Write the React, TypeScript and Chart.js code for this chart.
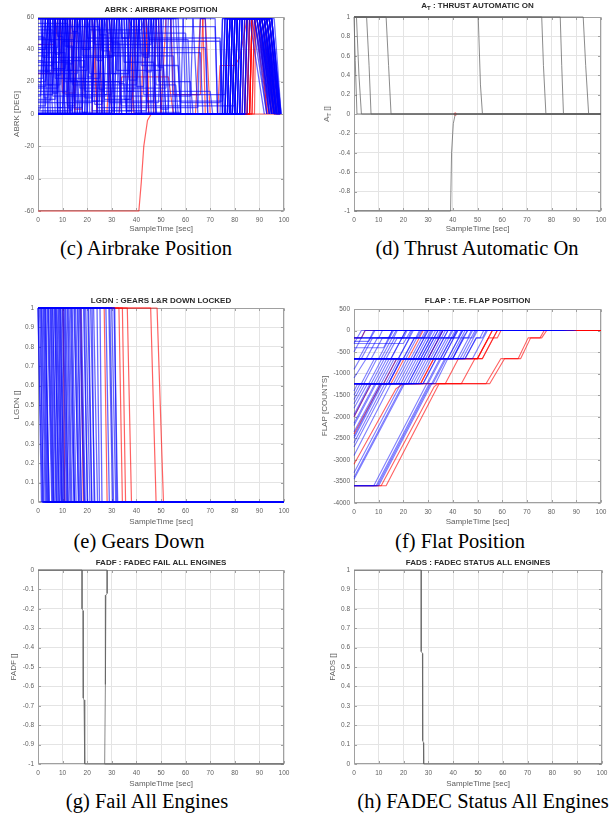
import React, { useEffect, useRef } from "react";
import { Chart, registerables } from "chart.js";

Chart.register(...registerables);

// ================= DATA =================
// Each trace is a flat list of (SampleTime [sec], value) pairs.

// (c) ABRK : AIRBRAKE POSITION  [DEG]
const abrkBlue: number[][] = [
  [0, 59, 4, 59, 5, 0, 9, 0, 10, 45, 74, 45, 75, 0, 78, 0, 79, 59, 91, 59, 97, 0, 98.5, 0],
  [0, 30, 6, 30, 7, 59, 15, 59, 16, 0, 20, 0, 21, 59, 28, 59, 30, 0, 80, 0, 81, 59, 89, 59, 96, 0, 98.5, 0],
  [0, 14, 12, 14, 13, 59, 18, 59, 19, 14, 70, 14, 71, 0, 76, 0, 77, 59, 93, 59, 98, 0],
  [0, 5, 3, 5, 4, 59, 9, 59, 11, 0, 24, 0, 25, 59, 33, 59, 34, 5, 80, 5, 81, 59, 90, 59, 96, 0],
  [0, 41, 8, 41, 9, 59, 11, 59, 12, 41, 68, 41, 69, 0, 79, 0, 80, 59, 92, 59, 97, 0],
  [0, 22, 2, 22, 3, 59, 6, 59, 7, 22, 25, 22, 26, 59, 36, 59, 38, 0, 82, 0, 83, 59, 93, 59, 98, 0],
  [0, 50, 17, 50, 18, 0, 22, 0, 23, 59, 27, 59, 28, 50, 60, 50, 61, 0, 77, 0, 78, 59, 88, 59, 95, 0],
  [0, 8, 5, 8, 6, 59, 14, 59, 15, 8, 75, 8, 76, 59, 90, 59, 95, 0],
  [0, 59, 1, 59, 2, 35, 30, 35, 31, 59, 40, 59, 42, 0, 78, 0, 79, 59, 94, 59, 98, 0],
  [0, 2, 14, 2, 15, 59, 21, 59, 22, 2, 44, 2, 45, 59, 50, 59, 52, 0, 81, 0, 82, 59, 92, 59, 97, 0],
  [0, 47, 3, 47, 4, 0, 10, 0, 11, 59, 19, 59, 20, 47, 74, 47, 75, 0, 84, 0, 85, 59, 95, 59, 98.5, 0],
  [0, 18, 9, 18, 10, 59, 13, 59, 14, 18, 40, 18, 41, 59, 47, 59, 48, 18, 56, 18, 57, 0, 79, 0, 80, 59, 91, 59, 96, 0],
  [0, 59, 7, 59, 8, 0, 16, 0, 17, 59, 24, 59, 25, 0, 33, 0, 34, 59, 39, 59, 40, 0, 76, 0, 77, 59, 93, 59, 97, 0],
  [0, 27, 20, 27, 21, 59, 31, 59, 32, 27, 50, 27, 51, 59, 56, 59, 58, 0, 80, 0, 81, 59, 90, 59, 94, 0],
  [0, 11, 1, 11, 2, 59, 5, 59, 6, 11, 62, 11, 63, 59, 68, 59, 69, 0, 78, 0, 79, 59, 92, 59, 96, 0],
  [0, 36, 4, 36, 5, 59, 8, 59, 9, 0, 12, 0, 13, 59, 17, 59, 18, 36, 55, 36, 56, 0, 83, 0, 84, 59, 94, 59, 98, 0],
  [0, 54, 25, 54, 26, 0, 29, 0, 30, 59, 37, 59, 38, 54, 72, 54, 73, 0, 77, 0, 78, 59, 91, 59, 95, 0],
  [0, 4, 18, 4, 19, 59, 23, 59, 24, 4, 65, 4, 66, 59, 72, 59, 73, 0, 80, 0, 81, 59, 93, 59, 97, 0],
  [0, 59, 10, 59, 11, 20, 35, 20, 36, 59, 43, 59, 45, 0, 79, 0, 80, 59, 88, 59, 93, 0],
  [0, 32, 13, 32, 14, 0, 26, 0, 27, 59, 34, 59, 35, 32, 47, 32, 48, 0, 82, 0, 83, 59, 95, 59, 98.5, 0],
  [0, 12, 6, 12, 7, 59, 10, 59, 11, 12, 28, 12, 29, 59, 42, 59, 43, 12, 76, 12, 77, 59, 92, 59, 97, 0],
  [0, 43, 2, 43, 3, 59, 22, 59, 23, 43, 46, 43, 47, 59, 54, 59, 55, 0, 78, 0, 79, 59, 90, 59, 95, 0],
  [0, 25, 16, 25, 17, 59, 20, 59, 21, 25, 37, 25, 38, 59, 46, 59, 48, 0, 81, 0, 82, 59, 94, 59, 98, 0],
  [0, 1, 30, 1, 31, 59, 38, 59, 39, 1, 58, 1, 59, 59, 63, 59, 65, 0, 77, 0, 78, 59, 93, 59, 97, 0],
  [0, 59, 5, 59, 6, 28, 11, 28, 12, 59, 26, 59, 27, 0, 84, 0, 85, 59, 94, 59, 98.5, 0],
  [0, 16, 8, 16, 9, 59, 16, 59, 17, 16, 52, 16, 53, 59, 59, 59, 60, 0, 79, 0, 80, 59, 91, 59, 96, 0],
  [0, 38, 11, 38, 12, 0, 18, 0, 19, 59, 29, 59, 30, 38, 66, 38, 67, 0, 80, 0, 81, 59, 92, 59, 96, 0],
  [0, 7, 22, 7, 23, 59, 28, 59, 29, 7, 49, 7, 50, 59, 57, 59, 58, 7, 74, 7, 75, 59, 89, 59, 94, 0],
  [0, 20, 3, 20, 4, 59, 12, 59, 13, 20, 33, 20, 34, 0, 37, 0, 38, 59, 48, 59, 49, 20, 62, 20, 63, 0, 82, 0, 83, 59, 93, 59, 97, 0],
  [0, 52, 6, 52, 7, 0, 14, 0, 15, 59, 20, 59, 21, 52, 42, 52, 43, 59, 52, 59, 53, 0, 78, 0, 79, 59, 95, 59, 98, 0],
  [0, 0, 2, 0, 3, 59, 8, 59, 9, 33, 19, 33, 20, 0, 75, 0, 76, 59, 87, 59, 93, 0],
  [0, 46, 15, 46, 16, 59, 26, 59, 27, 0, 31, 0, 32, 59, 44, 59, 45, 46, 61, 46, 62, 0, 83, 0, 84, 59, 96, 59, 98.8, 0],
  [0, 9, 7, 9, 8, 59, 12, 59, 13, 0, 19, 0, 20, 59, 26, 59, 27, 9, 38, 9, 39, 59, 45, 59, 46, 0, 85, 0, 86, 59, 95, 59, 98.5, 0],
  [0, 56, 12, 56, 13, 0, 15, 0, 16, 59, 30, 59, 31, 0, 36, 0, 37, 59, 41, 59, 42, 30, 57, 30, 58, 0, 81, 0, 82, 59, 92, 59, 97, 0],
  [0, 59, 1.5, 59, 2.5, 10, 4, 10, 5, 59, 6.5, 59, 7.5, 24, 9, 24, 10, 59, 11.5, 59, 12.5, 3, 14, 3, 15, 59, 17, 59, 18, 40, 21, 40, 22, 59, 24, 59, 25, 15, 27, 15, 28, 59, 30, 59, 31, 0, 78, 0, 79, 59, 90, 59, 96, 0],
  [0, 33, 2, 33, 3, 0, 4, 0, 5, 59, 7, 59, 8, 48, 10, 48, 11, 0, 13, 0, 14, 59, 16, 59, 17, 29, 19, 29, 20, 59, 22, 59, 23, 6, 26, 6, 27, 59, 29, 59, 30, 44, 33, 44, 34, 0, 36, 0, 37, 59, 39, 59, 40, 17, 43, 17, 44, 59, 46, 59, 47, 0, 80, 0, 81, 59, 91, 59, 97, 0],
  [0, 17, 3, 17, 4, 59, 6, 59, 7, 37, 9, 37, 10, 59, 12, 59, 13, 21, 16, 21, 17, 0, 19, 0, 20, 59, 23, 59, 24, 33, 26, 33, 27, 59, 32, 59, 33, 19, 35, 19, 36, 0, 40, 0, 41, 59, 43, 59, 44, 26, 46, 26, 47, 59, 49, 59, 50, 3, 53, 3, 54, 59, 55, 59, 56, 0, 77, 0, 78, 59, 92, 59, 97.5, 0],
  [0, 3, 1, 3, 2, 59, 4, 59, 5, 45, 7, 45, 8, 0, 10, 0, 11, 31, 14, 31, 15, 59, 18, 59, 19, 10, 22, 10, 23, 59, 25, 59, 26, 39, 29, 39, 30, 0, 32, 0, 33, 59, 35, 59, 36, 14, 39, 14, 40, 59, 42, 59, 43, 35, 45, 35, 46, 59, 49, 59, 50, 0, 82, 0, 83, 59, 93, 59, 98, 0],
  [0, 48, 2, 48, 3, 26, 5, 26, 6, 0, 8, 0, 9, 59, 11, 59, 12, 5, 15, 5, 16, 59, 19, 59, 20, 23, 22, 23, 23, 59, 26, 59, 27, 12, 30, 12, 31, 59, 33, 59, 34, 47, 37, 47, 38, 59, 41, 59, 42, 0, 44, 0, 45, 59, 48, 59, 49, 29, 51, 29, 52, 0, 79, 0, 80, 59, 94, 59, 98.5, 0],
  [0, 59, 3, 59, 4, 18, 6, 18, 7, 59, 10, 59, 11, 42, 14, 42, 15, 0, 17, 0, 18, 59, 21, 59, 22, 8, 25, 8, 26, 59, 29, 59, 30, 25, 32, 25, 33, 59, 35, 59, 36, 2, 38, 2, 39, 59, 41, 59, 42, 37, 45, 37, 46, 59, 47, 59, 48, 0, 76, 0, 77, 59, 89, 59, 95, 0],
  [0, 26, 4, 26, 5, 59, 7, 59, 8, 4, 10, 4, 11, 59, 13, 59, 14, 51, 16, 51, 17, 59, 20, 59, 21, 0, 24, 0, 25, 59, 27, 59, 28, 36, 31, 36, 32, 59, 34, 59, 35, 9, 37, 9, 38, 59, 40, 59, 41, 0, 81, 0, 82, 59, 90, 59, 96.5, 0],
  [0, 40, 3, 40, 4, 59, 5, 59, 6, 13, 8, 13, 9, 59, 11, 59, 12, 27, 14, 27, 15, 59, 17, 59, 18, 1, 20, 1, 21, 59, 24, 59, 25, 49, 28, 49, 29, 0, 31, 0, 32, 59, 36, 59, 37, 21, 40, 21, 41, 59, 43, 59, 44, 8, 47, 8, 48, 59, 50, 59, 51, 0, 84, 0, 85, 59, 95, 59, 98.8, 0],
  [0, 0, 74, 0, 75, 59, 86, 59, 92, 0],
  [0, 0, 75, 0, 76, 59, 88, 59, 94, 0],
  [0, 0, 76, 0, 77, 59, 90, 59, 95.5, 0],
  [0, 0, 77, 0, 78, 59, 91, 59, 96.5, 0],
  [0, 0, 79, 0, 80, 59, 93, 59, 97.5, 0],
  [0, 0, 80, 0, 81, 59, 94, 59, 98.2, 0],
  [0, 0, 82, 0, 83, 59, 95, 59, 98.8, 0],
  [0, 0, 76, 0, 77, 45, 79, 59, 89, 59, 94.5, 0],
];
const abrkRed: number[][] = [
  [0, -60, 41, -60, 42, -42, 43, -20, 44.5, -4, 46, 0, 98.8, 0],
  [0, 43, 7, 43, 8, 59, 13, 59, 15, 3, 18, 3, 19, 59, 28, 59, 30, 0, 85, 0, 86, 59, 91, 59, 96, 0, 98.5, 0],
  [0, 25, 6, 25, 7, 59, 9, 59, 10, 13, 15, 13, 16, 59, 23, 59, 24, 0, 86, 0, 87, 59, 93, 59, 97.5, 0],
  [0, 0, 33, 0, 34, 23, 53, 23, 55, 0, 87, 0, 88, 59, 92, 59, 96.5, 0],
  [0, 59, 22, 59, 24, 0, 38, 0, 40, 59, 44, 59, 45, 0, 84, 0, 85, 59, 90, 59, 95, 0],
  [0, 0, 50, 0, 52, 59, 54, 59, 55, 12, 66, 12, 67, 59, 68, 59, 70, 0, 86, 0, 87, 59, 94, 59, 98, 0],
  [0, 0, 73, 0, 74, 30, 80, 30, 82, 35, 85, 59, 91, 59, 95.5, 0],
  [0, 0, 28, 0, 30, 59, 37, 59, 39, 0, 86, 0, 87, 59, 93, 59, 97, 0],
  [0, 0, 85, 0, 86, 59, 89, 59, 94, 0],
  [0, 0, 86, 0, 87, 59, 94, 59, 98, 0],
  [0, 0, 47, 0, 48, 59, 49, 59, 50, 0, 88, 0, 88.5, 59, 92, 59, 96, 0],
  [0, 0, 64, 0, 66, 59, 67, 59, 68, 0, 84, 0, 85, 59, 90, 59, 93, 0],
  [0, 0, 83, 0, 84, 59, 88, 59, 93.5, 0],
  [0, 0, 85, 0, 86, 59, 90, 59, 95, 0],
  [0, 0, 87, 0, 88, 59, 92, 59, 97, 0],
  [0, 0, 12, 0, 13, 59, 14, 59, 15, 0, 22, 0, 23, 59, 25, 59, 26, 0, 42, 0, 43, 59, 44, 59, 45, 0, 86, 0, 87, 59, 92, 59, 96, 0],
];

// (d) A_T : THRUST AUTOMATIC ON
const atTraces: number[][] = [
  [0, 1, 0.3, 1, 0.5, 0.55, 1.2, 0, 100, 0],
  [0, 1, 1, 1, 2, 0.4, 3, 0, 100, 0],
  [0, 1, 5.1, 1, 6.1, 0.5, 6.9, 0, 100, 0],
  [0, 1, 13, 1, 14, 0.5, 15, 0, 100, 0],
  [0, 1, 50.3, 1, 51.2, 0.3, 52, 0, 100, 0],
  [0, 1, 76, 1, 76.7, 0.5, 77.7, 0, 100, 0],
  [0, 1, 83.5, 1, 84.1, 0.5, 84.8, 0, 100, 0],
  [0, 1, 92.8, 1, 93.8, 0.5, 95, 0, 100, 0],
  [0, -1, 39.1, -1, 39.5, -0.4, 40.2, -0.1, 41, 0, 100, 0],
];
const atMarker = [41, 0];

// (e) LGDN : GEARS L&R DOWN LOCKED  (1 until start, 0 from end)
const lgdnBlueStart = [0.2, 0.6, 1.1, 1.6, 2.1, 2.7, 3.2, 3.8, 4.3, 4.9, 5.4, 6.0, 6.6, 7.1, 7.7, 8.2, 8.8, 9.3, 9.9, 10.6, 11.3, 11.9, 12.6, 13.2, 13.9, 14.6, 15.3, 16.0, 16.8, 17.6, 18.5, 19.4, 20.3, 21.4, 22.6, 24.0, 27.6, 28.8, 30.0, 30.9,
  0.4, 1.3, 2.4, 3.0, 4.1, 5.2, 5.9, 6.9, 7.4, 8.5, 9.1, 10.2, 11.0, 12.2, 13.6, 14.9, 16.3, 17.2, 18.9, 20.6, 22.0, 25.2, 29.2, 31.2];
const lgdnBlueEnd = [1.4, 2.3, 2.0, 3.3, 3.6, 4.6, 4.5, 5.6, 6.2, 6.4, 7.3, 7.5, 8.6, 8.7, 9.6, 9.8, 10.7, 11.0, 11.6, 12.3, 13.0, 13.4, 14.6, 14.9, 15.5, 16.6, 17.0, 17.6, 18.7, 19.2, 20.2, 21.1, 21.8, 23.1, 24.2, 25.0, 29.0, 30.3, 31.6, 32.4,
  1.8, 2.9, 3.9, 4.2, 5.9, 6.6, 7.8, 8.2, 9.3, 9.9, 10.4, 11.9, 12.2, 13.8, 14.8, 16.4, 17.6, 18.9, 20.0, 21.9, 22.8, 26.0, 30.7, 32.0];
const lgdnRedStart = [10.2, 17.4, 26.9, 32.9, 34.3, 36.3, 45.8, 48.4];
const lgdnRedEnd = [10.9, 18.4, 28.1, 34.3, 35.6, 38.0, 48.0, 51.0];

// (f) FLAP : T.E. FLAP POSITION [COUNTS]
const flapBlue: number[][] = [
  [0, -650, 5, -650, 9.5, -170, 14, -170, 15.5, 0, 70, 0],
  [0, -1230, 8, -1230, 13.3, -650, 20, -650, 24.4, -170, 30, -170, 31.5, 0, 75, 0],
  [0, -2500, 11.5, -1230, 14, -1230, 19.3, -650, 26, -650, 30.4, -170, 34, -170, 35.5, 0, 80, 0],
  [0, -3600, 9, -3600, 30.5, -1230, 33, -1230, 38, -650, 45, -650, 49.5, -170, 52, -170, 53.5, 0, 85, 0],
  [0, -3450, 20.5, -1230, 24, -1230, 29.3, -650, 40, -650, 44, -170, 46, 0, 70, 0],
  [0, -1800, 5.5, -1230, 10, -1230, 15.3, -650, 30, -650, 36, 0, 68, 0],
  [0, -2200, 9, -1230, 18, -1230, 23.3, -650, 35, -650, 41, 0, 72, 0],
  [0, -500, 4.5, 0, 60, 0],
  [0, -300, 3, 0, 50, 0],
  [0, -170, 10, -170, 11.5, 0, 55, 0],
  [0, -650, 20, -650, 24.5, -170, 28, -170, 29.5, 0, 80, 0],
  [0, -900, 2.5, -650, 30, -650, 36, 0, 66, 0],
  [0, -1230, 25, -1230, 30.3, -650, 48, -650, 54, 0, 89, 0],
  [0, -1500, 2.5, -1230, 4, -1230, 9.3, -650, 15, -650, 21, 0, 60, 0],
  [0, -2000, 7, -1230, 22, -1230, 27.3, -650, 32, -650, 38, 0, 70, 0],
  [0, -2600, 12.5, -1230, 14, -1230, 19, -650, 23, -650, 29, 0, 74, 0],
  [0, -3300, 19, -1230, 28, -1230, 33.3, -650, 38, -650, 44, 0, 68, 0],
  [0, -3600, 10, -3600, 31.5, -1230, 36.8, -650, 40, -650, 46, 0, 80, 0],
  [0, -3600, 8, -3600, 29.5, -1230, 34.8, -650, 42, -650, 48, 0, 72, 0],
  [0, -650, 2, -650, 6.5, -170, 8, 0, 52, 0],
  [0, -400, 12, -400, 15.5, 0, 64, 0],
  [0, -650, 15, -650, 21, 0, 58, 0],
  [0, -1100, 5, -650, 25, -650, 31, 0, 85, 0],
  [0, -1700, 4.5, -1230, 13, -1230, 18.3, -650, 26, -650, 32, 0, 76, 0],
  [0, -2350, 10.5, -1230, 26, -1230, 31.3, -650, 45, -650, 49.5, -170, 51, -170, 52.5, 0, 82, 0],
  [0, -170, 25, -170, 26.5, 0, 60, 0],
  [0, -650, 40, -650, 44.5, -170, 48, -170, 49.5, 0, 90, 0],
  [0, -1230, 16, -1230, 21.3, -650, 38, -650, 44, 0, 78, 0],
  [0, -2900, 15, -1230, 20, -1230, 25.3, -650, 28, -650, 34, 0, 66, 0],
  [0, -250, 6, -250, 8.5, 0, 68, 0],
  [0, -650, 3, -650, 7.5, -170, 20, -170, 21.5, 0, 62, 0],
  [0, -650, 7, -650, 11.5, -170, 16, -170, 17.5, 0, 64, 0],
  [0, -650, 10, -650, 16, 0, 70, 0],
  [0, -650, 12, -650, 16.5, -170, 46, -170, 47.5, 0, 75, 0],
  [0, -650, 18, -650, 22.5, -170, 26, -170, 27.5, 0, 66, 0],
  [0, -650, 24, -650, 30, 0, 70, 0],
  [0, -650, 27, -650, 31.5, -170, 38, -170, 39.5, 0, 72, 0],
  [0, -650, 32, -650, 38, 0, 80, 0],
  [0, -650, 35, -650, 39.5, -170, 42, -170, 43.5, 0, 76, 0],
  [0, -650, 44, -650, 50, 0, 86, 0],
  [0, -1230, 3, -1230, 8.3, -650, 11, -650, 17, 0, 66, 0],
  [0, -1230, 6, -1230, 11.3, -650, 13, -650, 17.5, -170, 22, -170, 23.5, 0, 68, 0],
  [0, -1230, 11, -1230, 16.3, -650, 28, -650, 34, 0, 74, 0],
  [0, -1230, 14, -1230, 19.3, -650, 21, -650, 27, 0, 62, 0],
  [0, -1230, 19, -1230, 24.3, -650, 33, -650, 37.5, -170, 40, -170, 41.5, 0, 80, 0],
  [0, -1230, 22, -1230, 27.3, -650, 29, -650, 35, 0, 68, 0],
  [0, -1230, 28, -1230, 33.3, -650, 36, -650, 42, 0, 74, 0],
  [0, -1400, 1.5, -1230, 7, -1230, 12.3, -650, 18, -650, 24, 0, 64, 0],
  [0, -1950, 6.5, -1230, 9, -1230, 14.3, -650, 27, -650, 33, 0, 70, 0],
  [0, -2150, 8.5, -1230, 12, -1230, 17.3, -650, 34, -650, 40, 0, 78, 0],
  [0, -2450, 11, -1230, 17, -1230, 22.3, -650, 24, -650, 30, 0, 66, 0],
  [0, -1600, 3.5, -1230, 21, -1230, 26.3, -650, 31, -650, 37, 0, 70, 0],
  [0, -3400, 20, -1230, 30, -1230, 35.3, -650, 39, -650, 45, 0, 75, 0],
  [0, -3600, 9.5, -3600, 31, -1230, 32, -1230, 37.3, -650, 43, -650, 49, 0, 84, 0],
  [0, -2700, 13.5, -1230, 23, -1230, 28.3, -650, 36, -650, 42, 0, 72, 0],
  [0, -300, 20, -300, 23, 0, 60, 0],
  [0, -170, 40, -170, 41.5, 0, 70, 0],
];
const flapRed: number[][] = [
  [0, -3600, 13, -3600, 34.5, -1230, 37, -1230, 42.3, -650, 50, -650, 56, 0, 100, 0],
  [0, -3600, 11, -3600, 32.5, -1300, 34, -1230, 43.5, -1230, 49, -650, 52, -650, 58, 0, 100, 0],
  [0, -3100, 17, -1350, 20, -1230, 27, -1230, 32.3, -650, 50, -650, 56, 0, 95, 0],
  [0, -1230, 55, -1230, 61, -650, 66.5, -650, 70.5, -170, 75.3, -170, 77, 0, 100, 0],
  [0, -1230, 53.5, -1230, 59.5, -650, 67.5, -650, 71.5, -170, 76, -170, 78, 0, 100, 0],
  [0, -650, 52, -650, 58, 0, 100, 0],
  [0, -1230, 27, -1230, 32.3, -650, 50, -650, 54.5, -170, 58, -170, 59.5, 0, 100, 0],
  [0, -2000, 7, -1230, 12, -1230, 17.3, -650, 30, -650, 36, 0, 100, 0],
  [0, -2400, 11, -1230, 15, -1230, 20.3, -650, 22, -650, 28, 0, 100, 0],
  [0, -170, 3, -170, 4.5, 0, 100, 0],
];

// (g) FADF : FADEC FAIL ALL ENGINES
const fadfTraces: number[][] = [
  [0, 0, 17.9, 0, 17.9, -0.2, 18.3, -0.21, 18.4, -0.66, 18.7, -0.67, 19.0, -1, 100, -1],
  [0, 0, 28.1, 0, 28.1, -0.12, 27.6, -0.13, 27.5, -0.58, 27.3, -0.59, 27.1, -1, 100, -1],
];

// (h) FADS : FADEC STATUS ALL ENGINES
const fadsTraces: number[][] = [
  [0, 1, 27.1, 1, 27.1, 0.58, 27.6, 0.57, 27.7, 0.12, 28.0, 0.11, 28.1, 0, 100, 0],
];

// ================= STYLE / LAYOUT =================
const SANS = "'Liberation Sans', Arial, Helvetica, sans-serif";
const SERIF = "'Liberation Serif', 'Times New Roman', serif";
const BLUE = "rgba(0,0,255,0.6)";
const BLUE_F = "rgba(0,0,255,0.5)";
const RED = "rgba(255,0,0,0.62)";
const GREY = "rgba(100,100,100,0.75)";
const TICK_COLOR = "#5e5e5e";
const LABEL_COLOR = "#5e5e5e";
const GRID = "#e4e4e4";
const BOX = "#a0a0a0";

const YW = 36;
const TH = 16;
const XH = 26;
const RP = 10;
const TITLE_SIZE = 8;
const LH = TITLE_SIZE * 1.2;

type Series = { pts: number[]; color: string; point?: boolean; width?: number };

function toPoints(arr: number[]) {
  const out: { x: number; y: number }[] = [];
  for (let i = 0; i + 1 < arr.length; i += 2) out.push({ x: arr[i], y: arr[i + 1] });
  return out;
}

const fmt = (v: any) => String(Math.round(Number(v) * 1e6) / 1e6);

const boxPlugin = {
  id: "matlabBox",
  beforeDatasetsDraw(chart: any) {
    const { ctx, chartArea: a, scales } = chart;
    ctx.save();
    ctx.strokeStyle = BOX;
    ctx.lineWidth = 1;
    const l = Math.round(a.left) + 0.5;
    const r = Math.round(a.right) - 0.5;
    const t = Math.round(a.top) + 0.5;
    const b = Math.round(a.bottom) - 0.5;
    ctx.strokeRect(l, t, r - l, b - t);
    ctx.beginPath();
    const xs = scales.x;
    const ys = scales.y;
    xs.ticks.forEach((tk: any) => {
      const px = Math.round(xs.getPixelForValue(tk.value)) + 0.5;
      ctx.moveTo(px, b);
      ctx.lineTo(px, b - 2.5);
      ctx.moveTo(px, t);
      ctx.lineTo(px, t + 2.5);
    });
    ys.ticks.forEach((tk: any) => {
      const py = Math.round(ys.getPixelForValue(tk.value)) + 0.5;
      ctx.moveTo(l, py);
      ctx.lineTo(l + 2.5, py);
      ctx.moveTo(r, py);
      ctx.lineTo(r - 2.5, py);
    });
    ctx.stroke();
    ctx.restore();
  },
};

type PanelDef = {
  plot: [number, number, number, number];
  y: [number, number, number];
  title?: string;
  titleY: number;
  yLabel?: string;
  yLabelX: number;
  xLabelY: number;
  series: Series[];
};

function Panel({ def }: { def: PanelDef }) {
  const ref = useRef<HTMLCanvasElement>(null);
  const [L, T, R, B] = def.plot;
  const cw = R - L + YW + RP;
  const ch = B - T + TH + XH;
  const left = L - YW;
  const top = T - TH;

  useEffect(() => {
    if (!ref.current) return;
    const datasets = def.series.map((s) => ({
      data: toPoints(s.pts),
      borderColor: s.color,
      backgroundColor: s.color,
      borderWidth: s.width ?? 1,
      pointRadius: s.point ? 1.6 : 0,
      pointBorderWidth: 0,
      showLine: !s.point,
      fill: false,
      tension: 0,
      clip: 2,
      borderJoinStyle: "bevel" as const,
    }));
    const tPad = def.titleY - top - LH / 2;
    const yPadTop = def.yLabelX - left - LH / 2;
    const xPadBottom = B + XH - def.xLabelY - LH / 2;
    const chart = new Chart(ref.current, {
      type: "line",
      data: { datasets },
      options: {
        animation: false,
        responsive: false,
        events: [],
        layout: { padding: { left: 0, right: RP, top: def.title ? 0 : TH, bottom: 0 } },
        plugins: {
          legend: { display: false },
          tooltip: { enabled: false },
          title: def.title
            ? {
                display: true,
                fullSize: false,
                text: def.title,
                color: "#2a2a2a",
                font: { family: SANS, size: TITLE_SIZE, weight: "bold", lineHeight: 1.2 },
                padding: { top: tPad, bottom: TH - LH - tPad },
              }
            : { display: false },
        },
        scales: {
          x: {
            type: "linear",
            min: 0,
            max: 100,
            ticks: {
              stepSize: 10,
              autoSkip: false,
              maxRotation: 0,
              padding: 5,
              color: TICK_COLOR,
              font: { family: SANS, size: 6.5 },
              callback: fmt,
            },
            grid: { color: GRID, drawTicks: false, lineWidth: 1 },
            border: { display: false },
            title: {
              display: true,
              text: "SampleTime [sec]",
              color: LABEL_COLOR,
              font: { family: SANS, size: TITLE_SIZE, lineHeight: 1.2 },
              padding: { top: 0, bottom: xPadBottom },
            },
            afterFit: (s: any) => {
              s.height = XH;
              s.paddingLeft = 0;
              s.paddingRight = 0;
            },
          },
          y: {
            type: "linear",
            min: def.y[0],
            max: def.y[1],
            ticks: {
              stepSize: def.y[2],
              autoSkip: false,
              padding: 4,
              color: TICK_COLOR,
              font: { family: SANS, size: 6.5 },
              callback: fmt,
            },
            grid: { color: GRID, drawTicks: false, lineWidth: 1 },
            border: { display: false },
            title: {
              display: !!def.yLabel,
              text: def.yLabel || "",
              color: LABEL_COLOR,
              font: { family: SANS, size: TITLE_SIZE, lineHeight: 1.2 },
              padding: { top: yPadTop, bottom: 0 },
            },
            afterFit: (s: any) => {
              s.width = YW;
              s.paddingTop = 0;
              s.paddingBottom = 0;
            },
          },
        },
      } as any,
      plugins: [boxPlugin],
    });
    return () => chart.destroy();
  }, []);

  return (
    <canvas
      ref={ref}
      width={cw}
      height={ch}
      style={{ position: "absolute", left, top, width: cw, height: ch }}
    />
  );
}

const traceSet = (rows: number[][], color: string, width = 1): Series[] =>
  rows.map((pts) => ({ pts, color, width }));
const gearSet = (starts: number[], ends: number[], color: string, width = 1): Series[] =>
  starts.map((s, i) => ({ pts: [0, 1, s, 1, ends[i], 0, 100, 0], color, width }));

const panels: PanelDef[] = [
  {
    plot: [38, 17, 284, 211],
    y: [-60, 60, 20],
    title: "ABRK : AIRBRAKE POSITION",
    titleY: 10,
    yLabel: "ABRK [DEG]",
    yLabelX: 17,
    xLabelY: 229,
    series: [...traceSet(abrkBlue, BLUE, 1.3), ...traceSet(abrkRed, RED, 1.2)],
  },
  {
    plot: [354, 17, 601, 211],
    y: [-1, 1, 0.2],
    titleY: 7,
    yLabelX: 328,
    xLabelY: 229,
    series: [...traceSet(atTraces, GREY), { pts: atMarker, color: "rgba(255,0,0,0.9)", point: true }],
  },
  {
    plot: [38, 308, 284, 502],
    y: [0, 1, 0.1],
    title: "LGDN : GEARS L&R DOWN LOCKED",
    titleY: 300.5,
    yLabel: "LGDN []",
    yLabelX: 16.5,
    xLabelY: 522,
    series: [...gearSet(lgdnBlueStart, lgdnBlueEnd, BLUE, 1.3), ...gearSet(lgdnRedStart, lgdnRedEnd, RED, 1.2)],
  },
  {
    plot: [354, 308.5, 601, 503],
    y: [-4000, 500, 500],
    title: "FLAP : T.E. FLAP POSITION",
    titleY: 300.5,
    yLabel: "FLAP [COUNTS]",
    yLabelX: 325,
    xLabelY: 522,
    series: [...traceSet(flapBlue, BLUE_F, 1.1), ...traceSet(flapRed, RED, 1.1)],
  },
  {
    plot: [38, 570, 284, 764],
    y: [-1, 0, 0.1],
    title: "FADF : FADEC FAIL ALL ENGINES",
    titleY: 562.3,
    yLabel: "FADF []",
    yLabelX: 14,
    xLabelY: 784,
    series: traceSet(fadfTraces, GREY),
  },
  {
    plot: [354, 570, 602, 764],
    y: [0, 1, 0.1],
    title: "FADS : FADEC STATUS ALL ENGINES",
    titleY: 562.3,
    yLabel: "FADS []",
    yLabelX: 332.5,
    xLabelY: 784,
    series: traceSet(fadsTraces, GREY),
  },
];

const captions: { text: string; x: number; y: number }[] = [
  { text: "(c) Airbrake Position", x: 146, y: 249 },
  { text: "(d) Thrust Automatic On", x: 477, y: 249 },
  { text: "(e) Gears Down", x: 139, y: 542 },
  { text: "(f) Flat Position", x: 460, y: 542 },
  { text: "(g) Fail All Engines", x: 147, y: 802 },
  { text: "(h) FADEC Status All Engines", x: 483, y: 802 },
];

export default function App() {
  return (
    <div
      style={{
        position: "absolute",
        left: 0,
        top: 0,
        width: 613,
        height: 818,
        background: "#fff",
        overflow: "hidden",
      }}
    >
      {panels.map((p, i) => (
        <Panel key={i} def={p} />
      ))}
      <div
        style={{
          position: "absolute",
          left: 477.5,
          top: 7,
          transform: "translate(-50%, -50%)",
          font: `bold ${TITLE_SIZE}px ${SANS}`,
          color: "#2a2a2a",
          whiteSpace: "nowrap",
          lineHeight: "10px",
        }}
      >
        A<sub style={{ fontSize: 6, verticalAlign: "-2px" }}>T</sub> : THRUST AUTOMATIC ON
      </div>
      <div
        style={{
          position: "absolute",
          left: 328,
          top: 114,
          transform: "translate(-50%, -50%) rotate(-90deg)",
          font: `${TITLE_SIZE}px ${SANS}`,
          color: LABEL_COLOR,
          whiteSpace: "nowrap",
          lineHeight: "10px",
        }}
      >
        A<sub style={{ fontSize: 6, verticalAlign: "-2px" }}>T</sub> []
      </div>
      {captions.map((c, i) => (
        <div
          key={i}
          style={{
            position: "absolute",
            left: c.x - 160,
            width: 320,
            top: c.y - 12,
            height: 24,
            lineHeight: "24px",
            textAlign: "center",
            font: `20.5px ${SERIF}`,
            color: "#000",
            whiteSpace: "nowrap",
          }}
        >
          {c.text}
        </div>
      ))}
    </div>
  );
}
